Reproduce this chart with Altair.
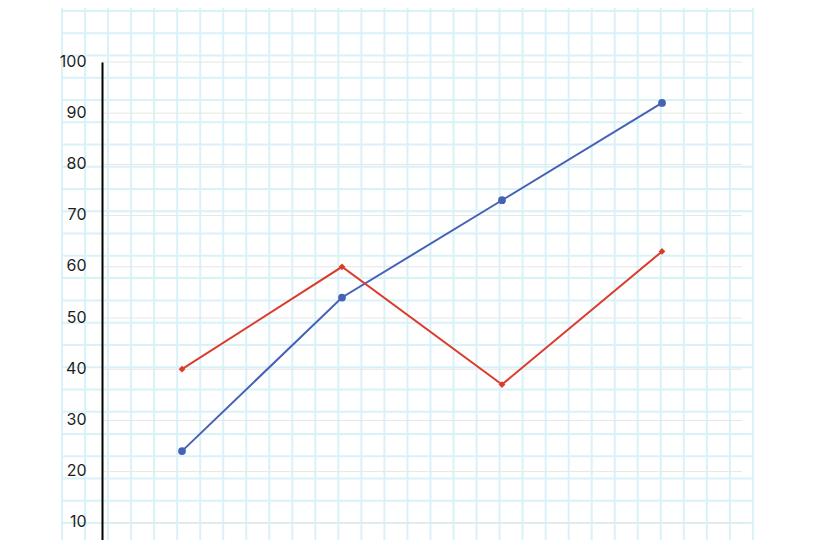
import altair as alt
import pandas as pd
import numpy as np

# ---- data ----
categories = ["A", "B", "C", "D"]
series_names = ["Series 1", "Series 2"]
blue_values = [24, 54, 73, 92]
red_values = [40, 60, 37, 63]
y_ticks = [10, 20, 30, 40, 50, 60, 70, 80, 90, 100]
series_colors = ["#4563b6", "#dc3b2c"]
series_shapes = ["circle", "diamond"]

rows = []
for c, b, r in zip(categories, blue_values, red_values):
    rows.append({"cat": c, "series": series_names[0], "value": b})
    rows.append({"cat": c, "series": series_names[1], "value": r})
df = pd.DataFrame(rows)
ticks_df = pd.DataFrame({"value": y_ticks})

# ---- decorative graph-paper background (pixel offsets from plot origin) ----
PLOT_LEFT, PLOT_TOP = 102, 62
paper_x = 62 + 23.03 * np.arange(31) - PLOT_LEFT
paper_y = 11 + 22.26 * np.arange(26) - PLOT_TOP
vert = pd.DataFrame({"x": paper_x, "y1": -70.0, "y2": 600.0})
horiz = pd.DataFrame({"y": paper_y, "x1": paper_x.min(), "x2": paper_x.max()})
paper_color = "#d9f2f8"

vlines = alt.Chart(vert).mark_rule(color=paper_color, strokeWidth=2).encode(
    x=alt.X("x:Q", scale=None, axis=None),
    y=alt.Y("y1:Q", scale=None, axis=None),
    y2="y2:Q",
)
hlines = alt.Chart(horiz).mark_rule(color=paper_color, strokeWidth=2).encode(
    x=alt.X("x1:Q", scale=None, axis=None),
    x2="x2:Q",
    y=alt.Y("y:Q", scale=None, axis=None),
)
paper = alt.layer(vlines, hlines)

y_scale = alt.Scale(domain=[0, 100], nice=False)
x_enc = alt.X("cat:N", scale=alt.Scale(type="point", domain=categories, padding=0.5), axis=None)
y_enc = alt.Y(
    "value:Q",
    scale=y_scale,
    axis=alt.Axis(
        values=y_ticks,
        ticks=False,
        tickSize=0,
        domainColor="#000000",
        domainWidth=2,
        grid=False,
        labelFont="Inter",
        labelFontSize=16,
        labelColor="#1f1f1f",
        labelPadding=16,
        labelBaseline="middle",
        labelOffset=-1,
        title=None,
        zindex=1,
    ),
)
color_enc = alt.Color("series:N", scale=alt.Scale(domain=series_names, range=series_colors), legend=None)

# light grey horizontal gridlines at each tick, under the data
gridlines = alt.Chart(ticks_df).mark_rule(color="#e6e6e6", strokeWidth=1).encode(
    y=y_enc,
    x=alt.value(0),
    x2=alt.value(640),
)

lines = alt.Chart(df).mark_line(strokeWidth=2).encode(x=x_enc, y=y_enc, color=color_enc)
points = alt.Chart(df).mark_point(filled=True, opacity=1).encode(
    x=x_enc,
    y=y_enc,
    color=color_enc,
    shape=alt.Shape("series:N", scale=alt.Scale(domain=series_names, range=series_shapes), legend=None),
    size=alt.Size("series:N", scale=alt.Scale(domain=series_names, range=[60, 45]), legend=None),
)
data_layer = alt.layer(gridlines, lines, points)

chart = (
    alt.layer(paper, data_layer)
    .resolve_scale(x="independent", y="independent")
    .properties(
        width=640,
        height=512,
        autosize=alt.AutoSizeParams(type="none"),
        padding={"left": 94, "top": 54, "right": 66, "bottom": 40},
    )
    .configure_view(stroke=None)
)

chart.save("out.html", embed_options={"renderer": "svg", "actions": False})
